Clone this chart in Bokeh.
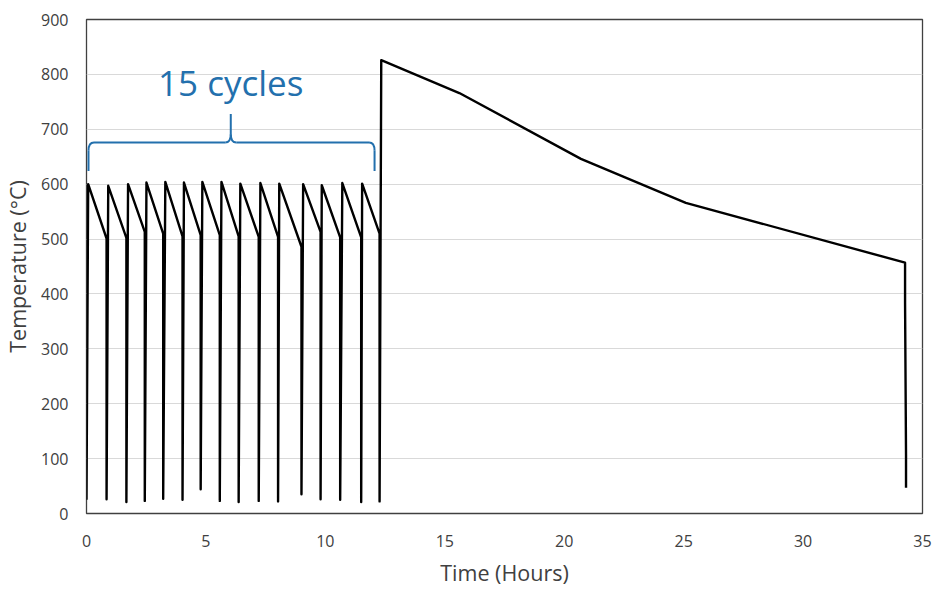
from bokeh.plotting import figure
from bokeh.models import Range1d, FixedTicker, ColumnDataSource, Label
from bokeh.embed import file_html
from bokeh.resources import INLINE

# ---- data ----
start_point = (0.0, 25)
peak_t = [0.07, 0.91, 1.74, 2.51, 3.30, 4.08, 4.85, 5.65, 6.44, 7.28, 8.07, 9.07, 9.85, 10.71, 11.54]
peak_T = [600, 597, 600, 603, 604, 603, 604, 604, 601, 602, 601, 600, 598, 602, 601]
drop_t = [0.84, 1.67, 2.44, 3.21, 4.02, 4.78, 5.58, 6.37, 7.21, 8.02, 9.00, 9.80, 10.62, 11.50, 12.27]
drop_T = [501, 502, 513, 510, 505, 507, 507, 505, 504, 504, 486, 513, 503, 503, 510]
low_T = [26, 21, 23, 27, 25, 44, 23, 21, 23, 22, 35, 26, 25, 21, 22]
final_t = [12.34, 15.61, 20.70, 25.09, 34.27, 34.27, 34.31, 34.31]
final_T = [826, 766, 646, 566, 457, 384, 106, 47]

x_ticks = [0, 5, 10, 15, 20, 25, 30, 35]
y_ticks = [0, 100, 200, 300, 400, 500, 600, 700, 800, 900]

# brace annotation (data units)
brace_x0, brace_x1, brace_xc = 0.084, 12.06, 6.04
brace_y, brace_end_y, brace_tip_y = 676, 624, 728
brace_rx, brace_ry = 0.23, 15
label_text = "15 cycles"
label_y = 785

# ---- assemble the series ----
t = [start_point[0]]
T = [start_point[1]]
for pt, pT, dt, dT, lT in zip(peak_t, peak_T, drop_t, drop_T, low_T):
    t += [pt, dt, dt]
    T += [pT, dT, lT]
t += final_t
T += final_T

BLUE = "#2370ad"
FONT = "Open Sans"

p = figure(width=935, height=589, output_backend="svg", toolbar_location=None,
           x_range=Range1d(0, 35), y_range=Range1d(0, 900),
           min_border_left=85, min_border_right=13, min_border_top=19, min_border_bottom=68)
p.background_fill_color = "white"
p.border_fill_color = "white"
p.outline_line_color = "#404040"
p.outline_line_width = 1.3

p.xgrid.grid_line_color = None
p.ygrid.grid_line_color = "#d9d9d9"
p.ygrid.grid_line_width = 1.2

p.xaxis.ticker = FixedTicker(ticks=x_ticks)
p.yaxis.ticker = FixedTicker(ticks=y_ticks)
for ax in (p.xaxis, p.yaxis):
    ax.axis_line_color = None
    ax.major_tick_line_color = None
    ax.minor_tick_line_color = None
    ax.major_tick_out = 0
    ax.major_tick_in = 0
    ax.major_label_text_font = FONT
    ax.major_label_text_font_size = "16px"
    ax.major_label_text_color = "#404040"
    ax.axis_label_text_font = FONT
    ax.axis_label_text_font_size = "21.5px"
    ax.axis_label_text_font_style = "normal"
    ax.axis_label_text_color = "#404040"

p.xaxis.axis_label = "Time (Hours)"
p.yaxis.axis_label = "Temperature (°C)"
p.xaxis.major_label_standoff = 21
p.yaxis.major_label_standoff = 18
p.xaxis.axis_label_standoff = 8
p.yaxis.axis_label_standoff = 6

p.line(t, T, line_color="black", line_width=2.4, line_join="round")

# brace
segs = ColumnDataSource(dict(
    x0=[brace_x0, brace_x0 + brace_rx, brace_xc + brace_rx, brace_x1, brace_xc],
    y0=[brace_end_y, brace_y, brace_y, brace_end_y, brace_y + brace_ry],
    x1=[brace_x0, brace_xc - brace_rx, brace_x1 - brace_rx, brace_x1, brace_xc],
    y1=[brace_y - brace_ry, brace_y, brace_y, brace_y - brace_ry, brace_tip_y],
))
p.segment("x0", "y0", "x1", "y1", source=segs, line_color=BLUE, line_width=2)
quads = ColumnDataSource(dict(
    x0=[brace_x0, brace_x1, brace_xc - brace_rx, brace_xc + brace_rx],
    y0=[brace_y - brace_ry, brace_y - brace_ry, brace_y, brace_y],
    x1=[brace_x0 + brace_rx, brace_x1 - brace_rx, brace_xc, brace_xc],
    y1=[brace_y, brace_y, brace_y + brace_ry, brace_y + brace_ry],
    cx=[brace_x0, brace_x1, brace_xc, brace_xc],
    cy=[brace_y, brace_y, brace_y, brace_y],
))
p.quadratic("x0", "y0", "x1", "y1", "cx", "cy", source=quads, line_color=BLUE, line_width=2)

p.add_layout(Label(x=brace_xc, y=label_y, text=label_text, text_align="center",
                   text_baseline="alphabetic", text_font=FONT, text_font_size="35px",
                   text_color=BLUE))

open("out.html", "w").write(file_html(p, INLINE))
